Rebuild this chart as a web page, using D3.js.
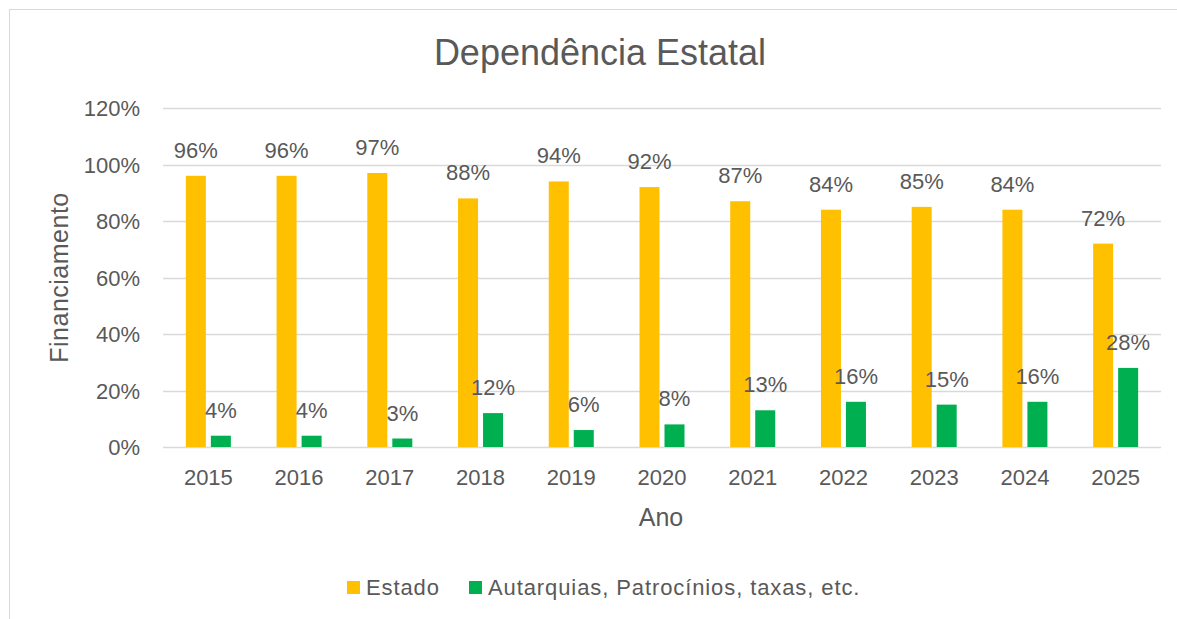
<!DOCTYPE html>
<html>
<head>
<meta charset="utf-8">
<script src="https://cdn.jsdelivr.net/npm/d3@7"></script>
<style>
  html, body { margin: 0; padding: 0; background: #ffffff; }
  svg { display: block; font-family: "Liberation Sans", Arial, sans-serif; }
</style>
</head>
<body>
<div id="chart"></div>
<script>
// data
const years = ['2015', '2016', '2017', '2018', '2019', '2020', '2021', '2022', '2023', '2024', '2025'];
const estado = [96, 96, 97, 88, 94, 92, 87, 84, 85, 84, 72];
const outros = [4, 4, 3, 12, 6, 8, 13, 16, 15, 16, 28];
const seriesNames = ['Estado', 'Autarquias, Patrocínios, taxas, etc.'];
const seriesColors = ['#FFC000', '#00B050'];
const yTicks = [0, 20, 40, 60, 80, 100, 120];

const width = 1177;
const height = 619;
const margin = { top: 108, right: 16, bottom: 172, left: 163 };
const textColor = '#595959';
const gridColor = '#d9d9d9';
const font = '"Liberation Sans", Arial, sans-serif';

const svg = d3.select('#chart').append('svg').attr('width', width).attr('height', height);

// outer chart frame (runs past the right and bottom edge in the reference)
svg.append('rect')
  .attr('x', 9.5).attr('y', 9.5)
  .attr('width', width + 20).attr('height', height + 20)
  .attr('fill', 'none').attr('stroke', gridColor).attr('stroke-width', 1);

const x = d3.scaleBand().domain(years).range([margin.left, width - margin.right]).paddingInner(0).paddingOuter(0);
const y = d3.scaleLinear().domain([0, 120]).range([height - margin.bottom, margin.top]);

// gridlines
svg.append('g')
  .selectAll('line')
  .data(yTicks)
  .enter()
  .append('line')
  .attr('x1', margin.left).attr('x2', width - margin.right)
  .attr('y1', (d) => Math.round(y(d)) + 0.5).attr('y2', (d) => Math.round(y(d)) + 0.5)
  .attr('stroke', gridColor).attr('stroke-width', 1.5);

// y axis labels
const yAxis = svg.append('g')
  .attr('transform', `translate(${margin.left - 23},0)`)
  .call(d3.axisLeft(y).tickValues(yTicks).tickFormat((d) => d + '%').tickSize(0).tickPadding(0));
yAxis.select('.domain').remove();
yAxis.selectAll('text').attr('fill', textColor).attr('font-size', 22).attr('font-family', font).attr('dy', '0.36em');

// x axis labels
const xAxis = svg.append('g')
  .attr('transform', `translate(0,${y(0)})`)
  .call(d3.axisBottom(x).tickSize(0).tickPadding(22));
xAxis.select('.domain').remove();
xAxis.selectAll('text').attr('fill', textColor).attr('font-size', 22).attr('font-family', font);

// bars
const barW = 20;
const gap = 5;
const series = [estado, outros];
series.forEach((values, si) => {
  const offset = si === 0 ? -(barW + gap / 2) : gap / 2;
  const g = svg.append('g');
  g.selectAll('rect')
    .data(values)
    .enter()
    .append('rect')
    .attr('x', (d, i) => x(years[i]) + x.bandwidth() / 2 + offset)
    .attr('y', (d) => y(d))
    .attr('width', barW)
    .attr('height', (d) => y(0) - y(d))
    .attr('fill', seriesColors[si]);

  g.selectAll('text')
    .data(values)
    .enter()
    .append('text')
    .attr('x', (d, i) => x(years[i]) + x.bandwidth() / 2 + offset + barW / 2)
    .attr('y', (d) => y(d) - 18)
    .attr('text-anchor', 'middle')
    .attr('fill', textColor)
    .attr('font-size', 22)
    .text((d) => d + '%');
});

// title
svg.append('text')
  .attr('x', 600).attr('y', 65)
  .attr('text-anchor', 'middle')
  .attr('fill', textColor)
  .attr('font-size', 36)
  .text('Dependência Estatal');

// axis titles
svg.append('text')
  .attr('x', 661).attr('y', 526)
  .attr('text-anchor', 'middle')
  .attr('fill', textColor)
  .attr('font-size', 25)
  .text('Ano');

svg.append('text')
  .attr('transform', `translate(68,${(y(0) + y(120)) / 2}) rotate(-90)`)
  .attr('text-anchor', 'middle')
  .attr('fill', textColor)
  .attr('font-size', 25)
  .attr('letter-spacing', 0.5)
  .text('Financiamento');

// legend
const legend = svg.append('g').attr('transform', 'translate(347,587)');
const legendX = [0, 122];
seriesNames.forEach((name, i) => {
  const item = legend.append('g').attr('transform', `translate(${legendX[i]},0)`);
  item.append('rect').attr('x', 0).attr('y', -6).attr('width', 13).attr('height', 13).attr('fill', seriesColors[i]);
  item.append('text').attr('x', 19).attr('y', 8).attr('fill', textColor).attr('font-size', 22)
    .attr('letter-spacing', 0.9).text(name);
});
</script>
</body>
</html>
